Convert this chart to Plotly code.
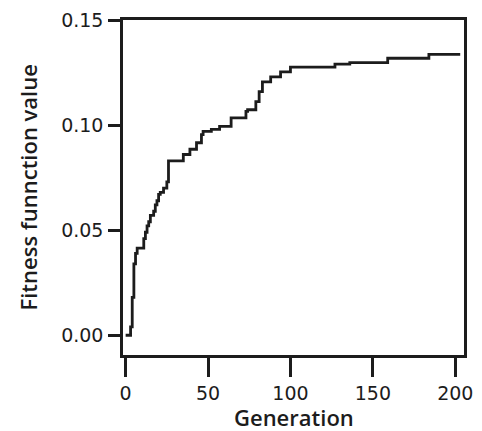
import plotly.graph_objects as go

# Best fitness per generation (change points of the staircase)
generation = [0, 3, 4, 5, 6, 7, 11, 12, 13, 14, 15, 17, 18, 19, 20, 21, 23, 25, 26,
              35, 39, 43, 46, 47, 52, 57, 64, 73, 74, 79, 81, 83, 88, 94, 100,
              127, 136, 159, 184, 203]
fitness = [0.000, 0.004, 0.018, 0.034, 0.039, 0.0415, 0.046, 0.049, 0.052, 0.054,
           0.057, 0.059, 0.062, 0.064, 0.067, 0.068, 0.070, 0.073, 0.083,
           0.086, 0.0885, 0.0916, 0.0955, 0.097, 0.098, 0.0994, 0.1034, 0.1065,
           0.1073, 0.1112, 0.1159, 0.1206, 0.1229, 0.1253, 0.1276,
           0.1290, 0.1297, 0.1318, 0.1336, 0.1336]

x_ticks = [0, 50, 100, 150, 200]
y_ticks = [0.00, 0.05, 0.10, 0.15]
y_tick_labels = ["0.00", "0.05", "0.10", "0.15"]
x_title = "Generation"
y_title = "Fitness funnction value"

ink = "#1c1c1c"

fig = go.Figure()
fig.add_trace(go.Scatter(
    x=generation, y=fitness, mode="lines",
    line=dict(color=ink, width=2.8, shape="hv"),
    showlegend=False, hoverinfo="skip",
))

tick_font = dict(size=19, family="DejaVu Sans", color=ink)
title_font = dict(size=22, family="Open Sans", color=ink, weight=600)

fig.update_layout(
    width=482, height=431,
    margin=dict(l=123, r=9, t=16, b=76),
    paper_bgcolor="white", plot_bgcolor="white",
    font=dict(family="Open Sans", color=ink, size=18),
    xaxis=dict(
        range=[-1.6, 205.3], tickvals=x_ticks, ticktext=[str(v) for v in x_ticks],
        showgrid=False, zeroline=False,
        showline=True, mirror=True, linecolor=ink, linewidth=2.5,
        ticks="outside", ticklen=19, tickwidth=2.5, tickcolor=ink,
        ticklabelstandoff=0,
        tickfont=tick_font,
    ),
    yaxis=dict(
        range=[-0.0094, 0.15], tickvals=y_ticks, ticktext=y_tick_labels,
        showgrid=False, zeroline=False,
        showline=True, mirror=True, linecolor=ink, linewidth=2.5,
        ticks="outside", ticklen=12, tickwidth=2.5, tickcolor=ink,
        ticklabelstandoff=1,
        tickfont=tick_font,
    ),
    annotations=[
        dict(text=x_title, xref="paper", yref="paper", x=0.5, y=0,
             xanchor="center", yanchor="top", yshift=-45, showarrow=False,
             font=title_font),
        dict(text=y_title, xref="paper", yref="paper", x=0, y=0.5,
             xanchor="center", yanchor="middle", xshift=-96, textangle=-90,
             showarrow=False, font=title_font),
    ],
)

fig.write_html("out.html")
